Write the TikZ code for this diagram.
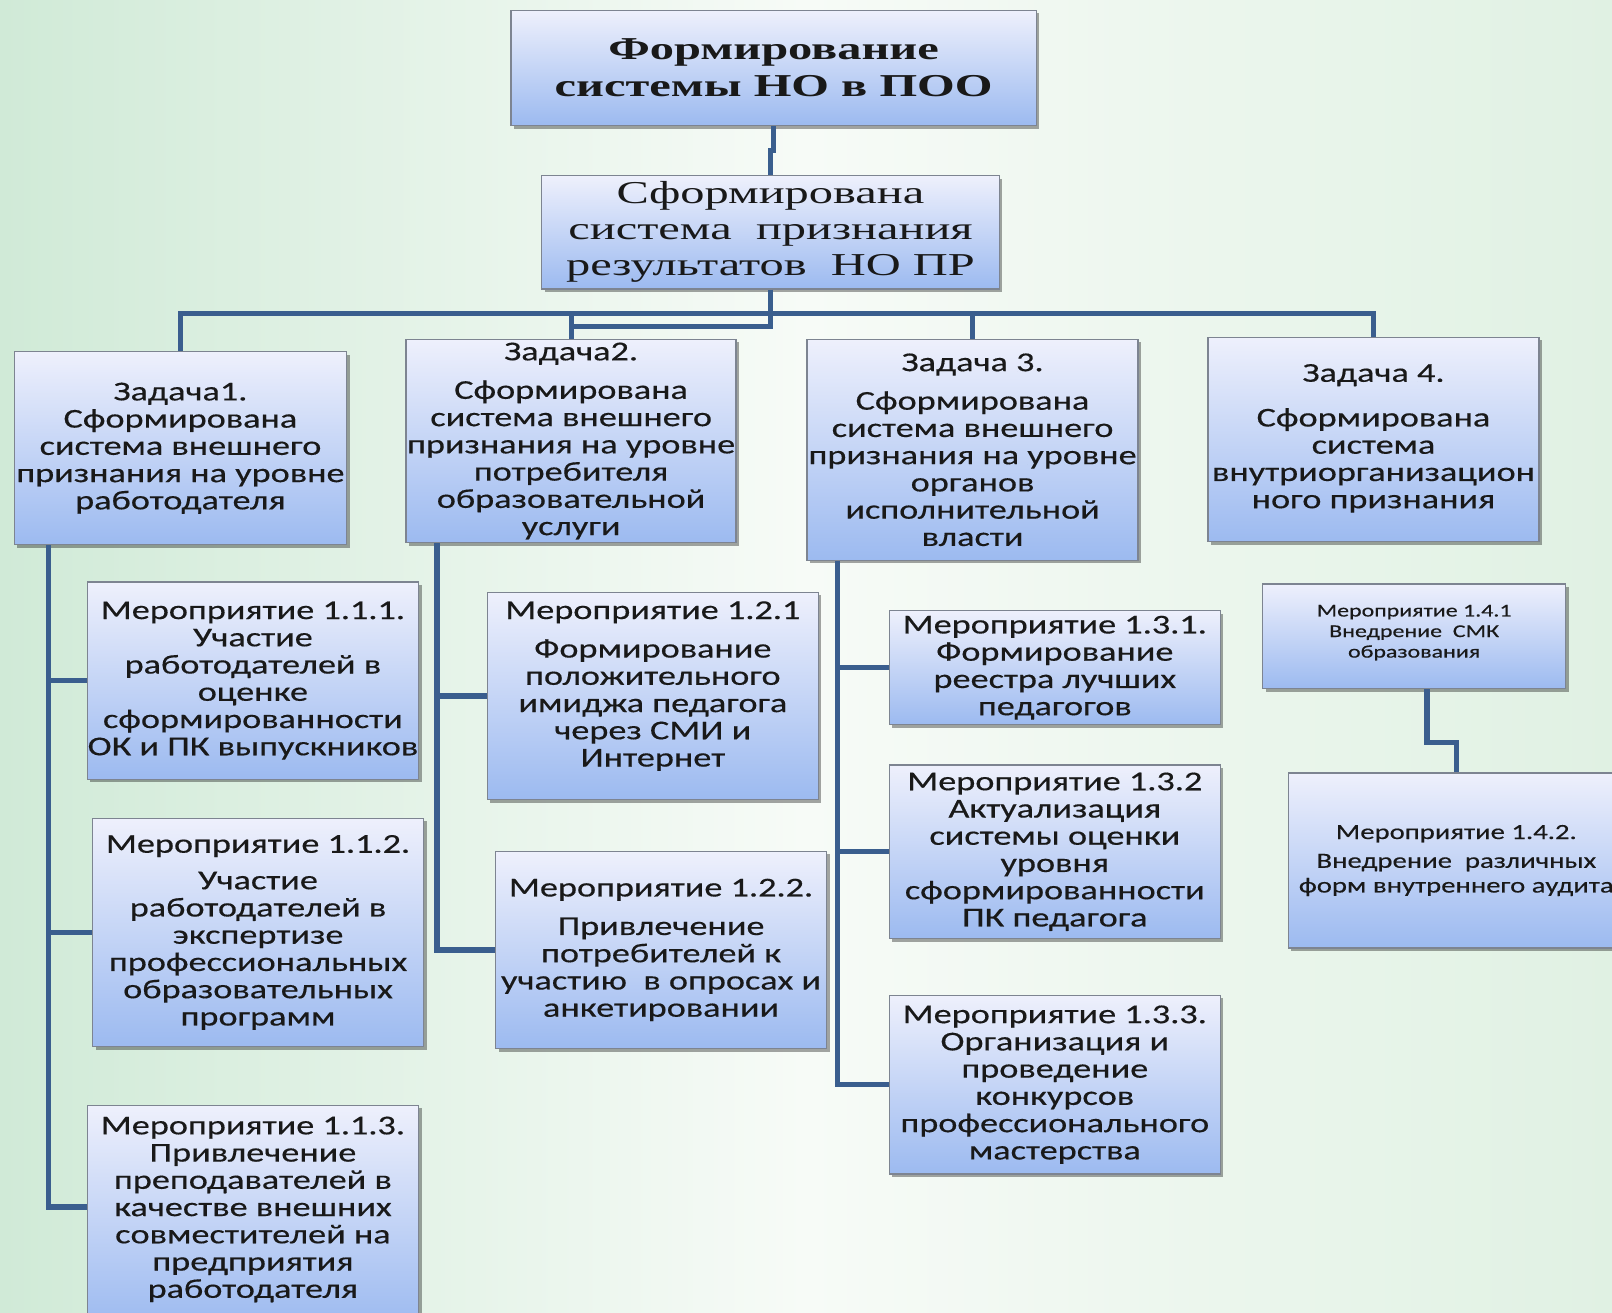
\documentclass[tikz,border=0pt]{standalone}
\usepackage{fontspec}
\usetikzlibrary{shadows}
\newfontfamily\calf[FakeStretch=1.33,FakeBold=0.4]{Carlito}
\newfontfamily\tmsf[FakeStretch=1.52]{Liberation Serif}
\definecolor{conn}{RGB}{58,94,142}
\definecolor{bxtop}{RGB}{238,240,252}
\definecolor{bxbot}{RGB}{156,186,240}
\definecolor{bxline}{RGB}{125,132,145}
\definecolor{bgG}{RGB}{208,234,215}
\definecolor{bgW}{RGB}{247,251,247}
\definecolor{bgR}{RGB}{224,241,227}
\definecolor{txt}{RGB}{25,25,25}
\begin{document}
\begin{tikzpicture}[x=1pt,y=-1pt,
  box/.style={draw=bxline, line width=1.2pt, top color=bxtop, bottom color=bxbot,
    align=center, inner sep=0pt, text=txt,
    drop shadow={shadow xshift=3pt, shadow yshift=-3pt, fill=black, opacity=0.35}},
  mf/.style={font=\calf\fontsize{26.5}{26.5}\selectfont},
  sf/.style={font=\calf\fontsize{17.5}{20}\selectfont},
  sf2/.style={font=\calf\fontsize{21}{24}\selectfont},
  conn/.style={draw=conn, line width=5pt}]
\useasboundingbox (0,0) rectangle (1568,1277);
\shade[left color=bgG, right color=bgR, middle color=bgW] (0,0) rectangle (1568,1277);

% top levels
\node[box, minimum width=511pt, minimum height=112pt, font=\tmsf\bfseries\fontsize{31}{36}\selectfont] (top) at (752.5,66) {Формирование\\системы НО в ПОО};
\node[box, minimum width=445pt, minimum height=110pt, font=\tmsf\fontsize{31}{35}\selectfont] (sec) at (749.5,226) {Сформирована\\система\ \ признания\\результатов\ \ НО ПР};

% tasks
\node[box, mf, minimum width=323pt, minimum height=188pt] (z1) at (175.5,436) {Задача1.\\Сформирована\\система внешнего\\признания на уровне\\работодателя};
\node[box, mf, minimum width=321pt, minimum height=198pt] (z2) at (555.5,429) {Задача2.\\[11pt]Сформирована\\система внешнего\\признания на уровне\\потребителя\\образовательной\\услуги};
\node[box, mf, minimum width=322pt, minimum height=215pt] (z3) at (946,437.5) {Задача 3.\\[11pt]Сформирована\\система внешнего\\признания на уровне\\органов\\исполнительной\\власти};
\node[box, mf, minimum width=322pt, minimum height=199pt] (z4) at (1336,427.5) {Задача 4.\\[17pt]Сформирована\\система\\внутриорганизацион\\ного признания\\[-20pt]\mbox{}};

% column 1
\node[box, mf, minimum width=322pt, minimum height=192pt] (m111) at (246,662) {Мероприятие 1.1.1.\\Участие\\работодателей в\\оценке\\сформированности\\ОК и ПК выпускников};
\node[box, mf, minimum width=322pt, minimum height=222pt] (m112) at (251,907) {Мероприятие 1.1.2.\\[9pt]Участие\\работодателей в\\экспертизе\\профессиональных\\образовательных\\программ};
\node[box, mf, minimum width=322pt, minimum height=215pt] (m113) at (246,1182.5) {Мероприятие 1.1.3.\\Привлечение\\преподавателей в\\качестве внешних\\совместителей на\\предприятия\\работодателя\\[-10pt]\mbox{}};

% column 2
\node[box, mf, minimum width=322pt, minimum height=202pt] (m121) at (635,677) {Мероприятие 1.2.1\\[11pt]Формирование\\положительного\\имиджа педагога\\через СМИ и\\Интернет\\[-3pt]\mbox{}};
\node[box, mf, minimum width=322pt, minimum height=192pt] (m122) at (643,924) {Мероприятие 1.2.2.\\[11pt]Привлечение\\потребителей к\\участию\ \ в опросах и\\анкетировании};

% column 3
\node[box, mf, minimum width=322pt, minimum height=111pt] (m131) at (1026,649.5) {Мероприятие 1.3.1.\\Формирование\\реестра лучших\\педагогов};
\node[box, mf, minimum width=322pt, minimum height=169pt] (m132) at (1026,828.5) {Мероприятие 1.3.2\\Актуализация\\системы оценки\\уровня\\сформированности\\ПК педагога};
\node[box, mf, minimum width=322pt, minimum height=174pt] (m133) at (1026,1055) {Мероприятие 1.3.3.\\Организация и\\проведение\\конкурсов\\профессионального\\мастерства};

% column 4
\node[box, sf, minimum width=295pt, minimum height=102pt] (m141) at (1375.5,619) {Мероприятие 1.4.1\\Внедрение\ \ СМК\\образования\\[-10pt]\mbox{}};
\node[box, sf2, minimum width=327pt, minimum height=170pt] (m142) at (1416.5,837) {Мероприятие 1.4.2.\\[4pt]Внедрение\ \ различных\\форм внутреннего аудита};

% helper coordinates
\coordinate (bus) at (0,305);
\coordinate (low) at (0,318);
\coordinate (x1) at (47,0);
\coordinate (x2) at (425,0);
\coordinate (x3) at (815,0);
\coordinate (x4) at (1388,0);
\coordinate (y113) at (0,1174);

% connectors
\draw[conn] (top.south) -- ++(0,24) -| (sec.north);
\draw[conn] (sec.south) |- (z2.north |- low) -- (z2.north |- bus);
\draw[conn] (z1.north) |- (z4.north |- bus) -- (z4.north);
\draw[conn] (z2.north |- bus) -- (z2.north);
\draw[conn] (z3.north |- bus) -- (z3.north);

\draw[conn] (z1.south -| x1) |- (m113.west |- y113);
\draw[conn] (m111.west -| x1) -- (m111.west);
\draw[conn] (m112.west -| x1) -- (m112.west);

\draw[conn] (z2.south -| x2) |- (m122.west);
\draw[conn] (m121.west -| x2) -- (m121.west);

\draw[conn] (z3.south -| x3) |- (m133.west);
\draw[conn] (m131.west -| x3) -- (m131.west);
\draw[conn] (m132.west -| x3) -- (m132.west);

\draw[conn] (m141.south -| x4) -- ++(0,52) -| (m142.north);
\end{tikzpicture}
\end{document}
